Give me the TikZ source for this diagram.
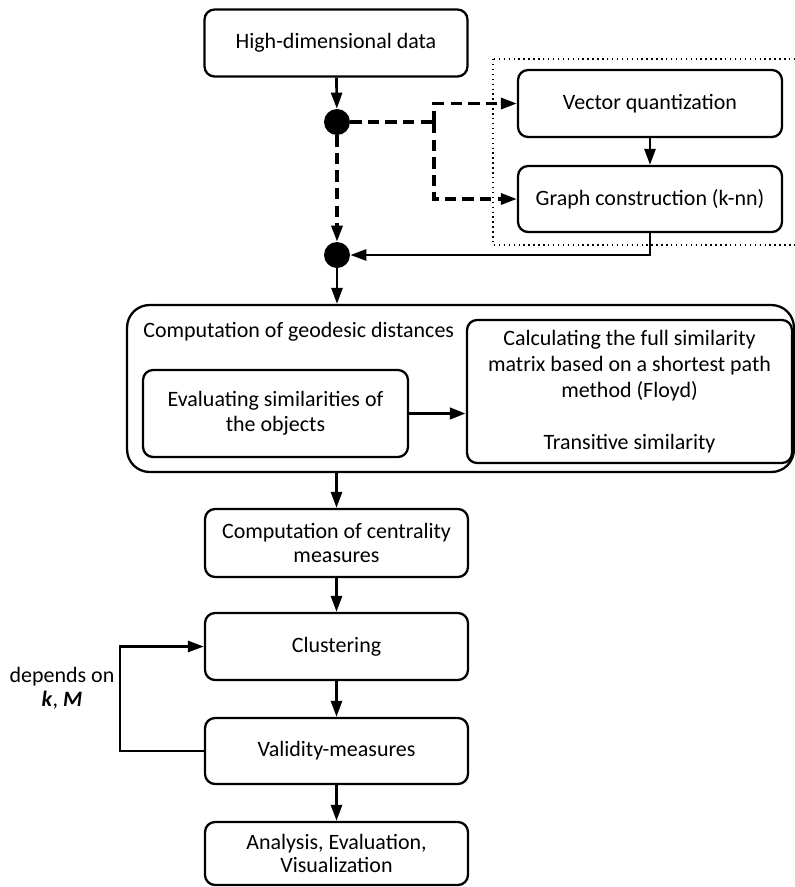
\documentclass[tikz,border=0pt]{standalone}
\usepackage{fontspec}
\setmainfont{Carlito}
\usetikzlibrary{arrows.meta}
\begin{document}
\begin{tikzpicture}[x=0.02cm, y=-0.02cm,
  font=\fontsize{12.5}{13.5}\selectfont,
  stepbox/.style={draw, line width=1.3pt, rounded corners=0.2cm, align=center,
    minimum width=5.26cm, minimum height=1.34cm, inner sep=2pt},
  dotnode/.style={circle, fill=black, minimum size=0.52cm, inner sep=0pt},
  flow/.style={line width=1.5pt, -{Triangle[length=3.2mm, width=2.2mm]}},
  dashline/.style={line width=1.8pt, dash pattern=on 6.5pt off 3.5pt}]
  \useasboundingbox (0,0) rectangle (795,887);

  % Input and preprocessing
  \node[stepbox] (data) at (336,43) {High-dimensional data};
  \node[dotnode] (dotA) at (337,122) {};
  \node[dotnode] (dotB) at (337,255) {};
  \draw[line width=0.8pt, dotted] (493,59) rectangle (805,245);
  \node[stepbox, minimum width=5.28cm] (vq) at (650,103.5) {Vector quantization};
  \node[stepbox, minimum width=5.28cm, minimum height=1.32cm] (gc) at (650,199) {Graph construction (k-nn)};
  \coordinate (split) at (434,122);

  \draw[flow] (data) -- (dotA);
  \draw[dashline] (dotA) -- (split);
  \draw[dashline, -{Triangle[length=3.2mm, width=2.2mm]}] (split) |- (vq);
  \draw[dashline, -{Triangle[length=3.2mm, width=2.2mm]}] (split) |- (gc);
  \draw[dashline, -{Triangle[length=3.2mm, width=2.2mm]}] (dotA) -- (dotB);
  \draw[flow] (vq) -- (gc);
  \draw[flow] (gc.south) |- (dotB);

  % Geodesic distances
  \node[draw, line width=1.3pt, rounded corners=0.45cm, minimum width=13.34cm,
    minimum height=3.34cm] (geo) at (460.5,388.5) {};
  \node[anchor=west, inner sep=0pt] (geotitle) at (143,332) {Computation of geodesic distances};
  \node[stepbox, minimum width=5.3cm, minimum height=1.74cm, font=\fontsize{12.5}{14}\selectfont] (eval) at (275.5,413.5)
    {Evaluating similarities of\\the objects};
  \node[stepbox, minimum width=6.5cm, minimum height=2.86cm, font=\fontsize{12.5}{14.7}\selectfont] (calc) at (629.5,391.5)
    {Calculating the full similarity\\matrix based on a shortest path\\method (Floyd)\\[14.7pt]Transitive similarity};
  \draw[flow, line width=2.2pt] (eval) -- (eval -| calc.west);
  \draw[flow] (dotB) -- (dotB |- geo.north);

  % Remaining steps
  \node[stepbox, minimum height=1.36cm] (cent) at (336.5,543) {Computation of centrality\\measures};
  \node[stepbox] (clus) at (336.5,646.5) {Clustering};
  \node[stepbox, minimum height=1.32cm] (valid) at (336.5,751) {Validity-measures};
  \node[stepbox, minimum height=1.26cm] (anal) at (336.5,853.5) {Analysis, Evaluation,\\Visualization};

  \draw[flow] (geo.south -| cent.north) -- (cent);
  \draw[flow] (cent) -- (clus);
  \draw[flow] (clus) -- (valid);
  \draw[flow] (valid) -- (anal);

  % Feedback loop
  \coordinate (loop) at (120,751);
  \draw[flow] (valid.west) -- (loop) |- (clus.west);
  \node[align=center] (dep) at (62,688) {depends on\\\textbf{\textit{k}}, \textbf{\textit{M}}};
\end{tikzpicture}
\end{document}
